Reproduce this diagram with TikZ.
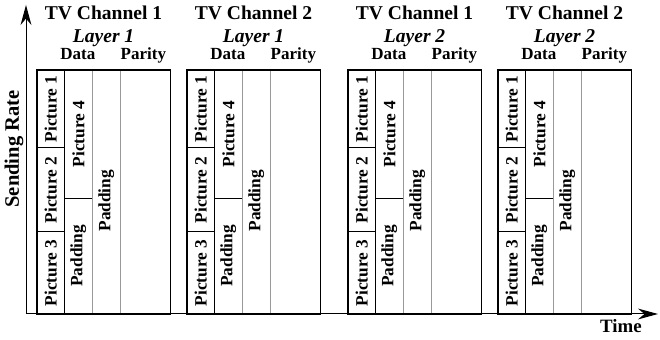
\documentclass[tikz,border=0pt]{standalone}
\usepackage{fontspec}
\setmainfont{Liberation Serif}
\usepackage{graphicx}
\usepackage{tikz}
\usetikzlibrary{arrows.meta,positioning}
\tikzset{
  chframe/.style={draw=black,line width=0.9pt,minimum width=3.33cm,minimum height=6.1cm,inner sep=0pt},
  picbox/.style={draw=black,line width=0.7pt,minimum width=0.69cm,inner sep=0pt,font=\fontsize{12.3}{14}\selectfont\bfseries},
  padtext/.style={inner sep=0pt,font=\fontsize{12.3}{14}\selectfont\bfseries},
  paritybox/.style={draw=gray!80,line width=0.6pt,minimum width=1.25cm,minimum height=6.1cm,inner sep=0pt},
  sepline/.style={line width=0.7pt,draw=black},
  graysep/.style={line width=0.6pt,draw=gray!80},
  hdr/.style={anchor=base,inner sep=0pt,font=\fontsize{13.9}{16}\selectfont\bfseries},
  layerhdr/.style={anchor=base,inner sep=0pt,font=\fontsize{13.9}{16}\selectfont\bfseries\itshape},
  colhdr/.style={anchor=base,inner sep=0pt,font=\fontsize{12.1}{14}\selectfont\bfseries},
  axarr/.style={-{Stealth[length=5mm,width=2.7mm]},line width=0.7pt,draw=black},
  axlabel/.style={inner sep=0pt,font=\fontsize{14.6}{17}\selectfont\bfseries}
}

\begin{document}
\begin{tikzpicture}
  \useasboundingbox (0,0) rectangle (16.5,8.5);
  % one block per channel and layer
  \foreach \bx/\bl/\ch/\ly in {0.925/a/1/1, 4.675/b/2/1, 8.7/c/1/2, 12.45/d/2/2} {
    \begin{scope}[shift={(\bx,0.65)}]
      \node[paritybox] (par\bl) at (2.705,3.05) {};
      \draw[graysep] (1.38,0) coordinate (gb\bl) -- (1.38,6.1) coordinate (gt\bl);
      \node[picbox,minimum height=1.95cm] (pa\bl) at (0.345,5.125) {\rotatebox{90}{Picture 1}};
      \node[picbox,minimum height=2.1cm] (pb\bl) at (0.345,3.1) {\rotatebox{90}{Picture 2}};
      \node[picbox,minimum height=2.05cm] (pc\bl) at (0.345,1.025) {\rotatebox{90}{Picture 3}};
      \node[padtext,minimum width=0.69cm,minimum height=3.2cm] (pd\bl) at (1.035,4.5) {\rotatebox{90}{Picture 4}};
      \node[padtext,minimum width=0.69cm,minimum height=2.9cm] (pe\bl) at (1.035,1.45) {\rotatebox{90}{Padding}};
      \node[padtext] (pf\bl) at (1.73,2.83) {\rotatebox{90}{Padding}};
      \draw[sepline] (pd\bl.south west) -- (pd\bl.south east);
      \node[chframe] (box\bl) at (1.665,3.05) {};
      \node[hdr] (tv\bl) at (1.665,7.35) {TV Channel \ch};
      \node[layerhdr] (ly\bl) at (1.665,6.78) {Layer \ly};
      \node[colhdr] (dh\bl) at (1.02,6.35) {Data};
      \node[colhdr] (ph\bl) at (2.66,6.35) {Parity};
    \end{scope}
  }
  % axes
  \coordinate (origin) at (0.65,0.65);
  \coordinate (ytip) at (0.65,8.375);
  \coordinate (xtip) at (16.45,0.65);
  \draw[axarr] (origin) -- (ytip);
  \draw[axarr] (origin) -- (xtip);
  \node[axlabel,rotate=90] (rate) at (0.35,4.775) {Sending Rate};
  \node[axlabel,font=\fontsize{13.4}{16}\selectfont\bfseries] (time) at (15.525,0.35) {Time};
\end{tikzpicture}
\end{document}
